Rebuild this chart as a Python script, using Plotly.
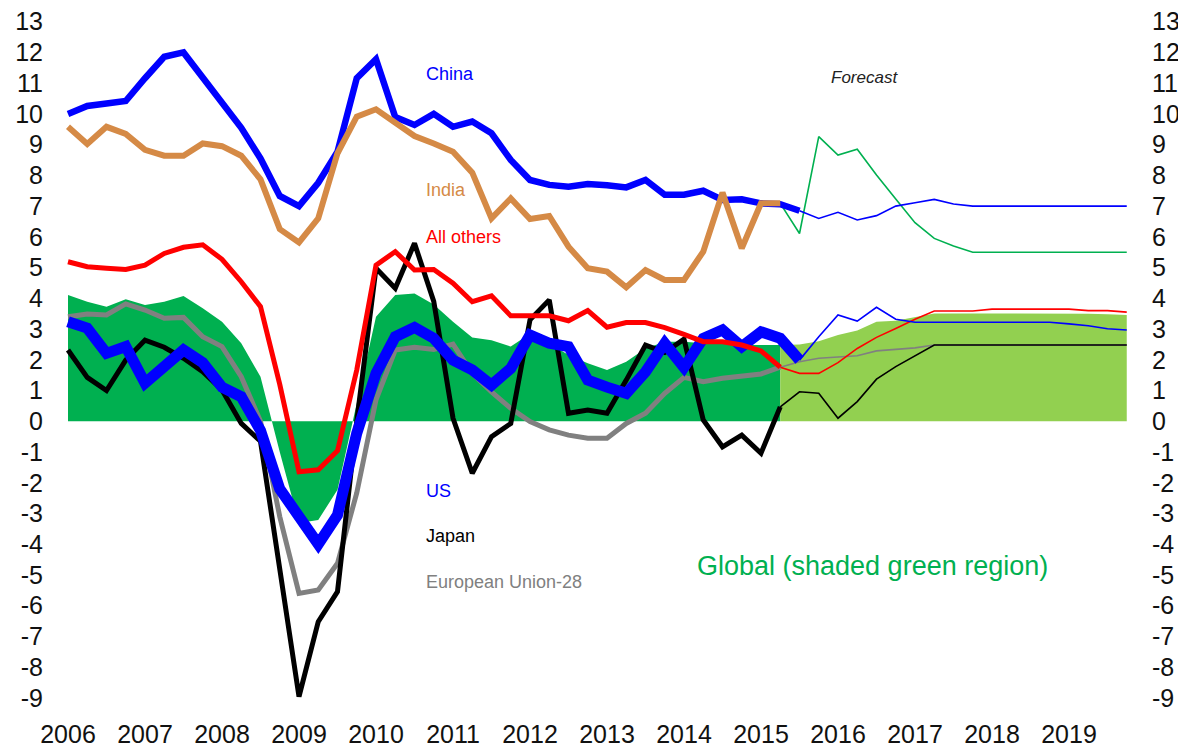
import plotly.graph_objects as go

# ---------------- data (quarterly, 2006Q1 .. 2019Q4) ----------------
years = list(range(2006, 2020))
x_q = [y + q * 0.25 for y in years for q in range(4)]
tick_labels = [str(y) for y in years]

# index of the last historical quarter of each series (forecast starts there)
china_last_hist = 38
us_last_hist = 38
other_last_hist = 37

china = [10.0, 10.26, 10.34, 10.42, 11.16, 11.86, 12.0, 11.16, 10.34, 9.55,
         8.55, 7.33, 7.0, 7.76, 8.77, 11.16, 11.78, 9.9, 9.64, 10.0,
         9.58, 9.75, 9.37, 8.5, 7.85, 7.69, 7.63, 7.72, 7.68, 7.61,
         7.85, 7.37, 7.37, 7.5, 7.2, 7.22, 7.09, 7.06, 6.85,
         6.6, 6.8, 6.55, 6.69, 7.0, 7.11, 7.22, 7.07, 7.0,
         7.0, 7.0, 7.0, 7.0, 7.0, 7.0, 7.0, 7.0]

india = [9.58, 9.02, 9.58, 9.35, 8.83, 8.64, 8.64, 9.04, 8.95, 8.64,
         7.87, 6.25, 5.82, 6.6, 8.72, 9.91, 10.15, 9.69, 9.28, 9.04,
         8.77, 8.09, 6.6, 7.25, 6.58, 6.68, 5.68, 4.98, 4.87, 4.36,
         4.92, 4.6, 4.6, 5.52, 7.44, 5.63, 7.09, 7.09,
         6.11, 9.26, 8.66, 8.85, 8.01, 7.23, 6.46, 5.95, 5.7, 5.5,
         5.5, 5.5, 5.5, 5.5, 5.5, 5.5, 5.5, 5.5]

all_others = [5.19, 5.03, 4.98, 4.94, 5.08, 5.46, 5.66, 5.74, 5.27, 4.54,
              3.73, 1.2, -1.64, -1.58, -0.96, 1.67, 5.08, 5.52, 4.92, 4.94,
              4.49, 3.89, 4.08, 3.43, 3.43, 3.43, 3.27, 3.6, 3.06, 3.21,
              3.21, 3.05, 2.83, 2.59, 2.59, 2.48, 2.29, 1.76,
              1.56, 1.56, 1.91, 2.37, 2.73, 3.02, 3.32, 3.59, 3.59, 3.59,
              3.65, 3.65, 3.65, 3.65, 3.65, 3.6, 3.6, 3.55]

us = [3.24, 3.03, 2.21, 2.43, 1.24, 1.78, 2.32, 1.91, 1.11, 0.8,
      -0.3, -2.2, -3.1, -4.0, -3.05, -0.39, 1.56, 2.75, 3.05, 2.7,
      1.99, 1.67, 1.18, 1.72, 2.81, 2.54, 2.43, 1.34, 1.11, 0.91,
      1.61, 2.54, 1.75, 2.7, 2.97, 2.43, 2.91, 2.7, 1.99,
      2.75, 3.46, 3.26, 3.71, 3.32, 3.22, 3.22, 3.22, 3.22,
      3.22, 3.22, 3.22, 3.22, 3.17, 3.11, 3.01, 2.97]

japan = [2.32, 1.43, 1.0, 1.99, 2.64, 2.41, 2.05, 1.61, 1.02, -0.07,
         -0.65, -4.8, -8.96, -6.52, -5.54, 0.0, 4.98, 4.33, 5.79, 3.9,
         0.1, -1.69, -0.5, -0.07, 3.3, 3.95, 0.26, 0.37, 0.26, 1.34,
         2.48, 2.24, 2.67, 0.04, -0.83, -0.45, -1.04, 0.47,
         0.96, 0.91, 0.1, 0.64, 1.37, 1.78, 2.12, 2.48, 2.48, 2.48,
         2.48, 2.48, 2.48, 2.48, 2.48, 2.48, 2.48, 2.48]

eu28 = [3.4, 3.49, 3.46, 3.82, 3.62, 3.35, 3.38, 2.75, 2.43, 1.45,
        0.0, -3.1, -5.6, -5.49, -4.62, -2.33, 0.7, 2.32, 2.41, 2.34,
        2.51, 1.56, 0.96, 0.42, -0.01, -0.28, -0.45, -0.55, -0.55, -0.07,
        0.26, 0.91, 1.43, 1.29, 1.4, 1.45, 1.54, 1.76,
        1.94, 2.05, 2.08, 2.13, 2.29, 2.34, 2.39, 2.48, 2.48, 2.48,
        2.48, 2.48, 2.48, 2.48, 2.48, 2.48, 2.48, 2.48]

global_gdp = [4.11, 3.89, 3.73, 3.97, 3.78, 3.89, 4.08, 3.68, 3.24, 2.54,
              1.45, -1.0, -3.31, -3.21, -2.23, 0.6, 3.4, 4.11, 4.16, 3.8,
              3.24, 2.73, 2.64, 2.43, 2.85, 2.54, 2.16, 1.89, 1.67, 1.94,
              2.37, 2.59, 2.59, 2.54, 2.54, 2.48, 2.48, 2.48,
              2.5, 2.6, 2.81, 2.95, 3.24, 3.27, 3.4, 3.51, 3.51, 3.51,
              3.51, 3.51, 3.51, 3.51, 3.51, 3.5, 3.48, 3.46]

y_ticks = list(range(-9, 14))
y_tick_labels = [str(v) for v in y_ticks]  # plain hyphen minus, as in the original

# ---------------- styling ----------------
FONT = "Liberation Sans, Arial, sans-serif"
BLUE = "#0000FF"
ORANGE = "#D58A46"
RED = "#FF0000"
BLACK = "#000000"
GRAY = "#808080"
DKGREEN = "#00B050"
LTGREEN = "#92D050"


def hist(vals, last):
    return x_q[:last + 1], vals[:last + 1]


def fcst(vals, last):
    return x_q[last:], vals[last:]


fig = go.Figure()

# global shaded areas
hx, hy = hist(global_gdp, other_last_hist)
fig.add_trace(go.Scatter(x=hx, y=hy, fill="tozeroy", mode="lines",
                         line=dict(width=0, color=DKGREEN), fillcolor=DKGREEN,
                         showlegend=False, hoverinfo="skip"))
fx, fy = fcst(global_gdp, other_last_hist)
fig.add_trace(go.Scatter(x=fx, y=fy, fill="tozeroy", mode="lines",
                         line=dict(width=0, color=LTGREEN), fillcolor=LTGREEN,
                         showlegend=False, hoverinfo="skip"))

# forecast thin lines
thin = [
    (eu28, other_last_hist, GRAY),
    (japan, other_last_hist, BLACK),
    (all_others, other_last_hist, RED),
    (us, us_last_hist, BLUE),
    (india, other_last_hist, DKGREEN),
    (china, china_last_hist, BLUE),
]
for vals, last, col in thin:
    fx, fy = fcst(vals, last)
    fig.add_trace(go.Scatter(x=fx, y=fy, mode="lines",
                             line=dict(width=1.6, color=col),
                             showlegend=False, hoverinfo="skip"))

# historical thick lines
thick = [
    (eu28, other_last_hist, GRAY, 5),
    (japan, other_last_hist, BLACK, 5),
    (us, us_last_hist, BLUE, 11),
    (all_others, other_last_hist, RED, 5),
    (china, china_last_hist, BLUE, 6.5),
    (india, other_last_hist, ORANGE, 6),
]
for vals, last, col, w in thick:
    hx, hy = hist(vals, last)
    fig.add_trace(go.Scatter(x=hx, y=hy, mode="lines",
                             line=dict(width=w, color=col),
                             showlegend=False, hoverinfo="skip"))

# dummy trace for the right axis
fig.add_trace(go.Scatter(x=[x_q[0]], y=[0], yaxis="y2", mode="markers",
                         marker=dict(opacity=0), showlegend=False,
                         hoverinfo="skip"))

# labels
labels = [
    ("China", 2010.623, 11.3, BLUE, 18),
    ("India", 2010.623, 7.52, ORANGE, 18),
    ("All others", 2010.623, 5.98, RED, 18),
    ("US", 2010.623, -2.28, BLUE, 18),
    ("Japan", 2010.623, -3.73, BLACK, 18),
    ("European Union-28", 2010.623, -5.23, GRAY, 18),
    ("Global (shaded green region)", 2014.143, -4.71, DKGREEN, 27),
]
for txt, xx, yy, col, sz in labels:
    fig.add_annotation(x=xx, y=yy, text=txt, showarrow=False,
                       xanchor="left", yanchor="middle",
                       font=dict(family=FONT, size=sz, color=col))
fig.add_annotation(x=2016.34, y=11.2, text="<i>Forecast</i>", showarrow=False,
                   xanchor="center", yanchor="middle",
                   font=dict(family=FONT, size=17, color="#222222"))

YR = [-9.197, 13.185]
TICKFONT = dict(family=FONT, size=25, color="#111111")
fig.update_layout(
    width=1178, height=739,
    margin=dict(l=52, r=55, t=8, b=43, autoexpand=False),
    paper_bgcolor="white", plot_bgcolor="white",
    xaxis=dict(range=[2005.8961, 2019.8052], tickvals=years, ticktext=tick_labels,
               showgrid=False, zeroline=False, showline=False, ticks="",
               tickfont=TICKFONT, ticklabelstandoff=13, automargin=False,
               ticklabeloverflow="allow"),
    yaxis=dict(range=YR, tickvals=y_ticks, ticktext=y_tick_labels,
               showgrid=False, zeroline=False,
               showline=False, ticks="", tickfont=TICKFONT,
               ticklabelstandoff=16, automargin=False,
               ticklabeloverflow="allow"),
    yaxis2=dict(range=YR, tickvals=y_ticks, ticktext=y_tick_labels,
                overlaying="y", side="right",
                showgrid=False, zeroline=False, showline=False, ticks="",
                tickfont=TICKFONT, ticklabelstandoff=20, automargin=False,
                ticklabeloverflow="allow"),
)

fig.write_html("out.html")
